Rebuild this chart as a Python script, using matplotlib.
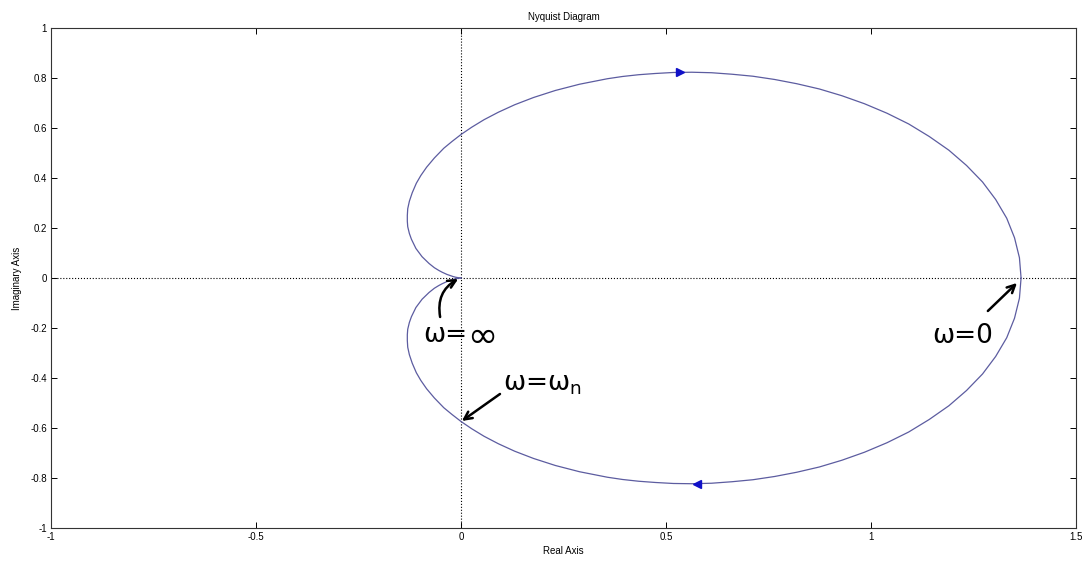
import matplotlib
matplotlib.use('Agg')
import matplotlib.pyplot as plt

# lower branch (w from 0 to inf)
re_lo = [1.366, 1.362, 1.350, 1.331, 1.304, 1.272, 1.233, 1.190, 1.142, 1.092,
         1.039, 0.984, 0.929, 0.874, 0.819, 0.765, 0.712, 0.661, 0.611, 0.563,
         0.518, 0.474, 0.433, 0.394, 0.357, 0.289, 0.230, 0.177,
         0.131, 0.091, 0.056, 0.026, 0.0, -0.022, -0.042, -0.065, -0.084,
         -0.098, -0.109, -0.119, -0.126, -0.130, -0.131, -0.131, -0.130,
         -0.126, -0.121, -0.110, -0.095, -0.078, -0.065, -0.054, -0.046,
         -0.034, -0.025, -0.020, -0.013, -0.006, -0.003, -0.0015, 0.0]
im_lo = [0.0, -0.081, -0.161, -0.239, -0.314, -0.384, -0.450, -0.511, -0.566,
         -0.616, -0.659, -0.697, -0.729, -0.756, -0.777, -0.794, -0.807,
         -0.815, -0.821, -0.823, -0.822, -0.818, -0.813, -0.806, -0.797,
         -0.775, -0.750, -0.722, -0.693, -0.663, -0.633, -0.603, -0.574,
         -0.546, -0.519, -0.480, -0.443, -0.410, -0.379, -0.341, -0.307,
         -0.277, -0.250, -0.227, -0.205, -0.178, -0.155, -0.118, -0.085,
         -0.058, -0.041, -0.030, -0.023, -0.014, -0.009, -0.006, -0.003,
         -0.001, -0.0004, -0.0001, 0.0]

# direction arrows on the curve
arr_re = [0.535, 0.575]
arr_im = [0.825, -0.823]

xticks = [-1, -0.5, 0, 0.5, 1, 1.5]
xlabels = ['-1', '-0.5', '0', '0.5', '1', '1.5']
yticks = [-1, -0.8, -0.6, -0.4, -0.2, 0, 0.2, 0.4, 0.6, 0.8, 1]
ylabels = ['-1', '-0.8', '-0.6', '-0.4', '-0.2', '0', '0.2', '0.4', '0.6', '0.8', '1']

small = ['Liberation Sans', 'DejaVu Sans']
curve_col = '#5c5ca0'

fig = plt.figure(figsize=(10.86, 5.63), dpi=100)
ax = fig.add_axes([0.047, 0.0622, 0.9438, 0.8881])

ax.axhline(0, color='black', linestyle=':', linewidth=0.8)
ax.axvline(0, color='black', linestyle=':', linewidth=0.8)

ax.plot(re_lo, im_lo, color=curve_col, linewidth=0.9)
ax.plot(re_lo, [-v for v in im_lo], color=curve_col, linewidth=0.9)

ax.plot(arr_re[0], arr_im[0], marker='>', color='#1010c8', markersize=6, linestyle='none')
ax.plot(arr_re[1], arr_im[1], marker='<', color='#1010c8', markersize=6, linestyle='none')

ax.set_xlim(-1, 1.5)
ax.set_ylim(-1, 1)
ax.set_xticks(xticks)
ax.set_xticklabels(xlabels, family=small, fontsize=7)
ax.set_yticks(yticks)
ax.set_yticklabels(ylabels, family=small, fontsize=7)
ax.tick_params(direction='in', top=True, right=True, length=4, width=0.7, pad=3)
for s in ax.spines.values():
    s.set_linewidth(0.8)
    s.set_color('#333333')

ax.set_title('Nyquist Diagram', family=small, fontsize=7, pad=6)
ax.set_xlabel('Real Axis', family=small, fontsize=7, labelpad=3)
ax.set_ylabel('Imaginary Axis', family=small, fontsize=7, labelpad=6)

arw = dict(arrowstyle='->', color='black', lw=1.8, shrinkA=0, shrinkB=0, mutation_scale=14)
ax.annotate('', xy=(-0.007, -0.004), xytext=(-0.051, -0.156),
            arrowprops=dict(arw, connectionstyle='arc3,rad=-0.35'))
ax.text(0.0146, -0.256, 'ω=', fontsize=19, ha='right', va='baseline')
ax.text(0.014, -0.274, '∞', fontsize=26, ha='left', va='baseline')

ax.annotate('', xy=(1.356, -0.02), xytext=(1.285, -0.132), arrowprops=arw)
ax.text(1.224, -0.26, 'ω=0', fontsize=19, ha='center', va='baseline')

ax.annotate('', xy=(0.002, -0.572), xytext=(0.095, -0.464), arrowprops=arw)
ax.text(0.102, -0.452, 'ω=ω$_\\mathregular{n}$', fontsize=19, ha='left', va='baseline')

fig.savefig('out.png', dpi=100)
